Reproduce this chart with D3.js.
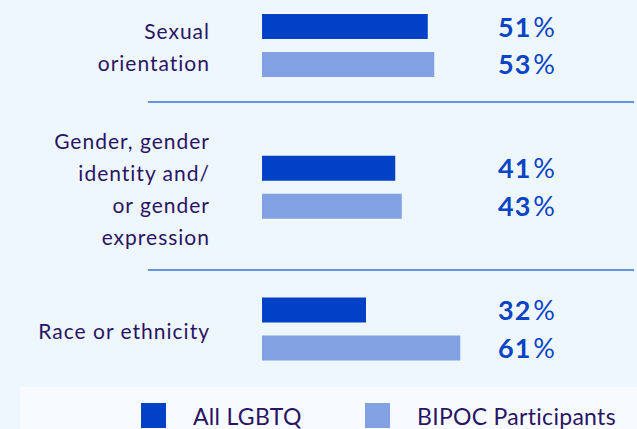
<!DOCTYPE html>
<html>
<head>
<meta charset="utf-8">
<script src="https://cdn.jsdelivr.net/npm/d3@7"></script>
<style>
  html, body { margin: 0; padding: 0; background: #eef7fe; }
  svg { display: block; }
</style>
</head>
<body>
<div id="chart"></div>
<script>
// data
var categories = ['Sexual orientation', 'Gender, gender identity and/or gender expression', 'Race or ethnicity']
var labelLines = [
  ['Sexual', 'orientation'],
  ['Gender, gender', 'identity and/', 'or gender', 'expression'],
  ['Race or ethnicity']
]
var series = ['All LGBTQ', 'BIPOC Participants']
var allLgbtq = [51, 41, 32]
var bipoc = [53, 43, 61]

var W = 637, H = 429
var darkBlue = '#0041c6'
var lightBlue = '#82a1e2'
var textPurple = '#2a1463'
var pctBlue = '#0a44c4'
var colorScale = d3.scaleOrdinal().domain(series).range([darkBlue, lightBlue])

var svg = d3.select('#chart').append('svg')
    .attr('width', W)
    .attr('height', H)

svg.append('rect')
    .attr('width', W).attr('height', H)
    .attr('fill', '#eef7fe')

var x = d3.scaleLinear()
    .domain([0, 100])
    .range([262, 587])

var y = d3.scalePoint()
    .domain(categories)
    .range([45.5, 329])

var inner = d3.scaleBand()
    .domain(series)
    .range([-31.5, 31.5])
    .paddingInner(0.342)

var rows = categories.map(function(c, i) {
  return {cat: c, lines: labelLines[i], vals: [allLgbtq[i], bipoc[i]]}
})

var groups = svg.selectAll('g.group')
    .data(rows)
    .enter()
    .append('g')
    .attr('class', 'group')
    .attr('transform', function(d) { return 'translate(0,' + y(d.cat) + ')' })

// category labels, right aligned
groups.each(function(d) {
  var n = d.lines.length
  d3.select(this).selectAll('text.cat')
      .data(d.lines)
      .enter()
      .append('text')
      .attr('class', 'cat')
      .attr('x', 210)
      .attr('y', function(t, i) { return (i - (n - 1) / 2) * 32 + 9.5 })
      .attr('text-anchor', 'end')
      .attr('font-family', 'Lato, sans-serif')
      .attr('font-size', 21)
      .attr('letter-spacing', 1)
      .attr('fill', textPurple)
      .text(function(t) { return t })
})

var bars = groups.selectAll('g.bar')
    .data(function(d) {
      return d.vals.map(function(v, i) { return {key: series[i], value: v} })
    })
    .enter()
    .append('g')
    .attr('class', 'bar')

bars.append('rect')
    .attr('x', x(0))
    .attr('y', function(d) { return inner(d.key) })
    .attr('width', function(d) { return x(d.value) - x(0) })
    .attr('height', inner.bandwidth())
    .attr('fill', function(d) { return colorScale(d.key) })

var pct = bars.append('text')
    .attr('x', 498)
    .attr('y', function(d) { return inner(d.key) + inner.bandwidth() / 2 + 10 })
    .attr('font-family', 'Lato, sans-serif')
    .attr('font-size', 27)
    .attr('fill', pctBlue)

pct.append('tspan')
    .attr('font-weight', 'bold')
    .attr('letter-spacing', 1)
    .text(function(d) { return d.value })
pct.append('tspan')
    .attr('dx', 2)
    .attr('font-weight', 'normal')
    .text('%')

// separators
var sepY = [102, 270]
svg.selectAll('line.sep')
    .data(sepY)
    .enter()
    .append('line')
    .attr('class', 'sep')
    .attr('x1', 148).attr('x2', 634)
    .attr('y1', function(d) { return d }).attr('y2', function(d) { return d })
    .attr('stroke', '#3470e2')
    .attr('stroke-width', 1.3)

// legend
var legend = svg.append('g')
legend.append('rect')
    .attr('x', 20).attr('y', 387)
    .attr('width', W - 20).attr('height', H - 387)
    .attr('fill', '#f7fbff')

var legX = [141, 365]
var items = legend.selectAll('g.item')
    .data(series)
    .enter()
    .append('g')
    .attr('class', 'item')
    .attr('transform', function(d, i) { return 'translate(' + legX[i] + ',403)' })

items.append('rect')
    .attr('width', 25).attr('height', 25)
    .attr('fill', function(d) { return colorScale(d) })

items.append('text')
    .attr('x', 52)
    .attr('y', 22)
    .attr('font-family', 'Lato, sans-serif')
    .attr('font-size', 23)
    .attr('letter-spacing', 0.3)
    .attr('fill', textPurple)
    .text(function(d) { return d })
</script>
</body>
</html>
